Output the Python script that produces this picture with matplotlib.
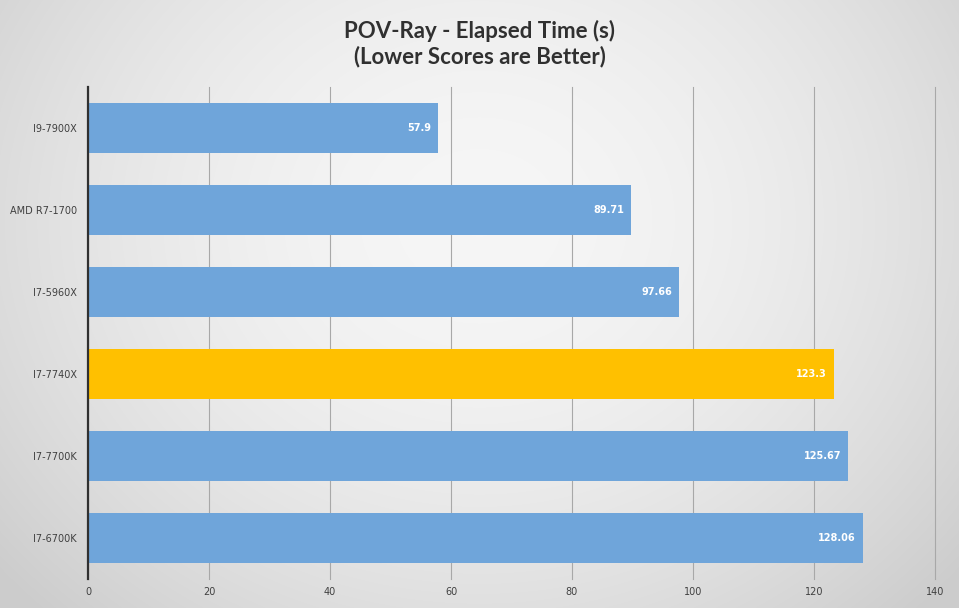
import numpy as np
import matplotlib
matplotlib.use("Agg")
import matplotlib.pyplot as plt

categories = ["I9-7900X", "AMD R7-1700", "I7-5960X", "I7-7740X", "I7-7700K", "I7-6700K"]
values = [57.9, 89.71, 97.66, 123.3, 125.67, 128.06]
labels = ["57.9", "89.71", "97.66", "123.3", "125.67", "128.06"]
highlight = "I7-7740X"
xticks = [0, 20, 40, 60, 80, 100, 120, 140]

BLUE = "#6fa5da"
GOLD = "#ffc000"

fig = plt.figure(figsize=(9.59, 6.08), dpi=100)

# background radial gradient
bg = fig.add_axes([0, 0, 1, 1], zorder=0)
yy, xx = np.mgrid[0:608, 0:959]
cx, cy = 479, 220
d = np.sqrt(((xx - cx) / 600.0) ** 2 + ((yy - cy) / 520.0) ** 2)
v = np.clip(0.965 - 0.15 * d ** 1.8, 0.80, 0.965)
img = np.dstack([v, v, v])
bg.imshow(img, aspect="auto", extent=[0, 1, 0, 1], origin="upper")
bg.axis("off")

ax = fig.add_axes([88 / 959, 1 - 579 / 608, (935 - 88) / 959, (579 - 87) / 608], zorder=1)
ax.patch.set_alpha(0)

y = np.arange(len(categories))
colors = [GOLD if c == highlight else BLUE for c in categories]
bars = ax.barh(y, values, height=0.6, color=colors, edgecolor="none", zorder=2)
ax.set_ylim(len(categories) - 0.5, -0.5)
ax.set_xlim(0, 140)
ax.set_xticks(xticks)
ax.set_xticklabels([str(t) for t in xticks], fontsize=7, color="#404040")
ax.set_yticks(y)
ax.set_yticklabels(categories, fontsize=7, color="#404040")
ax.tick_params(axis="x", length=0, pad=6)
ax.tick_params(axis="y", length=0, pad=8)
ax.grid(axis="x", color="#a8a8a8", linewidth=0.8, zorder=1)
for gl in ax.get_xgridlines():
    gl.set_clip_on(False)
ax.set_axisbelow(True)
for s in ["top", "right", "bottom"]:
    ax.spines[s].set_visible(False)
ax.spines["left"].set_color("#303030")
ax.spines["left"].set_linewidth(1.6)
ax.spines["left"].set_zorder(3)

for b, lab in zip(bars, labels):
    ax.annotate(lab, xy=(b.get_width(), b.get_y() + b.get_height() / 2),
                xytext=(-5, 0), textcoords="offset points", ha="right", va="center",
                color="white", fontsize=7, fontweight="bold", zorder=4)

fig.text(0.5, 1 - 31 / 608, "POV-Ray - Elapsed Time (s)", ha="center", va="center",
         fontsize=16, fontweight="bold", color="#303030", family="Lato")
fig.text(0.5, 1 - 57 / 608, "(Lower Scores are Better)", ha="center", va="center",
         fontsize=16, fontweight="bold", color="#303030", family="Lato")

fig.savefig("out.png", dpi=100)
